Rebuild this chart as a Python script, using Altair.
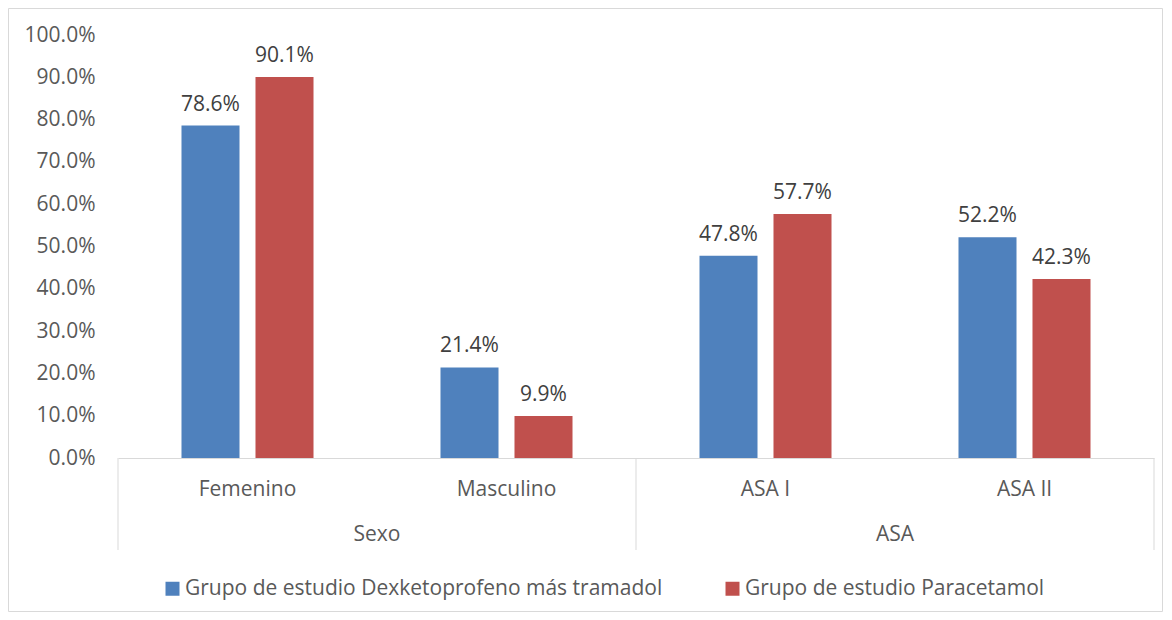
import altair as alt
import pandas as pd

categories = ["Femenino", "Masculino", "ASA I", "ASA II"]
series = ["Grupo de estudio Dexketoprofeno más tramadol", "Grupo de estudio Paracetamol"]
dex_values = [0.786, 0.214, 0.478, 0.522]
para_values = [0.901, 0.099, 0.577, 0.423]
y_ticks = [0.0, 0.1, 0.2, 0.3, 0.4, 0.5, 0.6, 0.7, 0.8, 0.9, 1.0]
group_labels = ["Sexo", "ASA"]
group_first_cat = ["Femenino", "ASA I"]
sep_start_cats = ["Femenino", "ASA I"]
sep_end_cats = ["ASA II"]
colors = ["#4F81BD", "#C0504D"]

rows = []
for c, d, p in zip(categories, dex_values, para_values):
    rows.append({"cat": c, "serie": series[0], "valor": d})
    rows.append({"cat": c, "serie": series[1], "valor": p})
df = pd.DataFrame(rows)

FONT = "Open Sans"
FS = 21
TXT = "#595959"
LINE = "#D9D9D9"
W, H = 1036, 423

xscale = alt.Scale(domain=categories, paddingInner=0, paddingOuter=0)
xaxis = alt.Axis(title=None, labelAngle=0, ticks=False, tickSize=0, domainColor=LINE,
                 labelColor=TXT, labelFontSize=FS, labelFont=FONT, labelPadding=20)
yscale = alt.Scale(domain=[0, 1])
yaxis = alt.Axis(title=None, values=y_ticks, format=".1%", domain=False, ticks=False,
                 tickSize=0, grid=False, labelColor=TXT, labelFontSize=FS, labelFont=FONT,
                 labelPadding=23)
xoff = alt.XOffset("serie:N", scale=alt.Scale(domain=series, paddingInner=0.216, paddingOuter=0.858))

base = alt.Chart(df)
bars = base.mark_bar().encode(
    x=alt.X("cat:N", scale=xscale, axis=xaxis),
    xOffset=xoff,
    y=alt.Y("valor:Q", scale=yscale, axis=yaxis),
    color=alt.Color("serie:N", scale=alt.Scale(domain=series, range=colors),
                    legend=alt.Legend(title=None, orient="none", direction="horizontal",
                                      legendX=44, legendY=543, symbolType="square",
                                      symbolSize=196, symbolStrokeWidth=0, labelFontSize=FS,
                                      labelFont=FONT, labelColor=TXT, labelOffset=2,
                                      columnPadding=59, labelLimit=0)),
)
labels = base.mark_text(baseline="alphabetic", dy=-15, fontSize=FS, font=FONT, color="#404040").encode(
    x=alt.X("cat:N", scale=xscale, axis=xaxis),
    xOffset=xoff,
    y=alt.Y("valor:Q", scale=yscale, axis=yaxis),
    text=alt.Text("valor:Q", format=".1%"),
)

gdf = pd.DataFrame({"cat": group_first_cat, "grupo": group_labels})
group_text = alt.Chart(gdf).mark_text(baseline="middle", fontSize=FS, font=FONT, color=TXT).encode(
    x=alt.X("cat:N", scale=xscale, axis=xaxis, bandPosition=1),
    y=alt.value(500),
    text="grupo:N",
)

sep1 = alt.Chart(pd.DataFrame({"cat": sep_start_cats})).mark_rule(color=LINE, strokeWidth=1).encode(
    x=alt.X("cat:N", scale=xscale, axis=xaxis, bandPosition=0),
    y=alt.value(H), y2=alt.value(H + 92),
)
sep2 = alt.Chart(pd.DataFrame({"cat": sep_end_cats})).mark_rule(color=LINE, strokeWidth=1).encode(
    x=alt.X("cat:N", scale=xscale, axis=xaxis, bandPosition=1),
    y=alt.value(H), y2=alt.value(H + 92),
)

border = alt.Chart(pd.DataFrame({"k": [0]})).mark_rect(filled=False, stroke=LINE, strokeWidth=1).encode(
    x=alt.value(-109.5), x2=alt.value(1044.5), y=alt.value(-26.5), y2=alt.value(576.5),
)

chart = alt.layer(border, sep1, sep2, bars, labels, group_text).properties(
    width=W, height=H,
    autosize=alt.AutoSizeParams(type="none"),
    padding={"left": 110, "top": 27, "right": 9, "bottom": 154},
).configure_view(stroke=None)

chart.save("out.html", embed_options={"renderer": "svg", "actions": False})
